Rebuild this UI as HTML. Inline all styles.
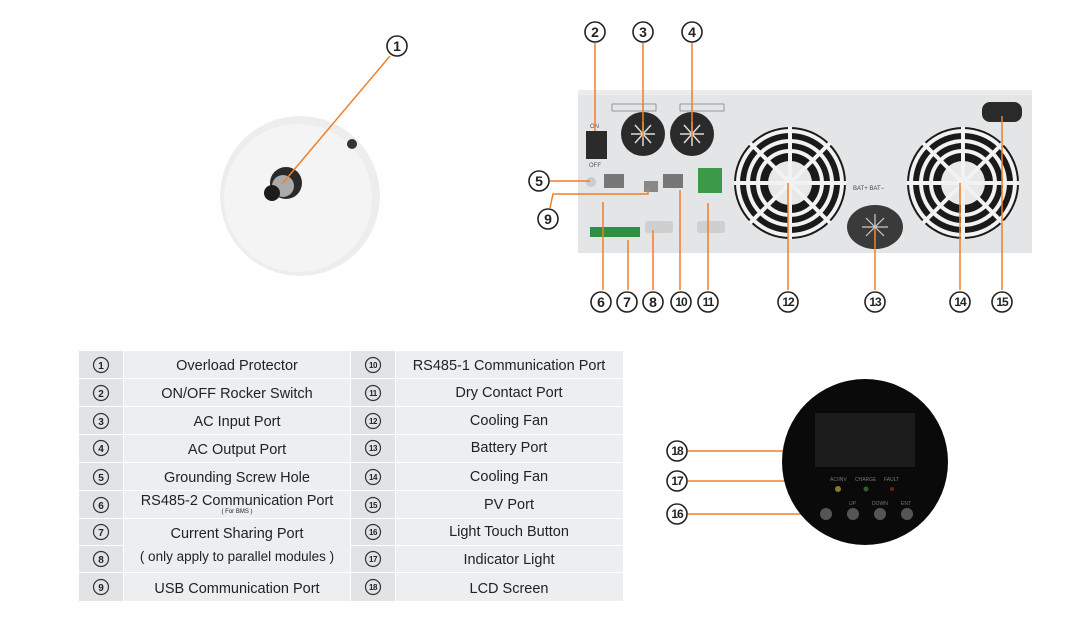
<!DOCTYPE html>
<html><head><meta charset="utf-8"><style>
body{margin:0;background:#fff;}
svg{display:block;}
.t{font-family:"Liberation Sans",sans-serif;}
</style></head><body>
<svg width="1085" height="640" viewBox="0 0 1085 640" xmlns="http://www.w3.org/2000/svg">
<defs>
<g id="fan">
<circle r="56" fill="#1a1a1a"/>
<circle r="52" fill="none" stroke="#f2f2f2" stroke-width="4"/>
<circle r="42" fill="none" stroke="#f2f2f2" stroke-width="4"/>
<circle r="32" fill="none" stroke="#f2f2f2" stroke-width="4"/>
<circle r="22" fill="#e8e8e8"/>
<line x1="-56" y1="0" x2="56" y2="0" stroke="#f2f2f2" stroke-width="4"/>
<line x1="0" y1="-56" x2="0" y2="56" stroke="#f2f2f2" stroke-width="4"/>
<line x1="-40" y1="-40" x2="40" y2="40" stroke="#f2f2f2" stroke-width="4"/>
<line x1="-40" y1="40" x2="40" y2="-40" stroke="#f2f2f2" stroke-width="4"/>
</g>
<g id="gland">
<circle r="22" fill="#2a2a2a"/>
<g stroke="#ddd" stroke-width="1.5"><line x1="-12" y1="0" x2="12" y2="0"/><line x1="-8" y1="-9" x2="8" y2="9"/><line x1="-8" y1="9" x2="8" y2="-9"/><line x1="0" y1="-12" x2="0" y2="12"/></g>
</g>
</defs>

<!-- left device -->
<circle cx="300" cy="196" r="80" fill="#ededed"/>
<circle cx="298" cy="198" r="74" fill="#f4f4f4"/>
<circle cx="352" cy="144" r="5" fill="#333"/>
<circle cx="286" cy="183" r="16" fill="#2a2a2a"/>
<circle cx="283" cy="186" r="11" fill="#aaa"/>
<circle cx="272" cy="193" r="8" fill="#1c1c1c"/>
<line x1="390" y1="56" x2="282" y2="184" stroke="#f07f2a" stroke-width="1.5"/>

<!-- rear panel -->
<rect x="578" y="90" width="454" height="163" fill="#e4e5e6"/>
<rect x="578" y="90" width="454" height="5" fill="#ececec"/>
<rect x="586" y="131" width="21" height="28" fill="#2b2b2b"/>
<text x="590" y="128" class="t" font-size="6" fill="#555">ON</text>
<text x="589" y="167" class="t" font-size="6" fill="#555">OFF</text>
<rect x="612" y="104" width="44" height="7" fill="none" stroke="#666" stroke-width="0.6"/>
<rect x="680" y="104" width="44" height="7" fill="none" stroke="#666" stroke-width="0.6"/>
<use href="#gland" x="643" y="134"/>
<use href="#gland" x="692" y="134"/>
<circle cx="591" cy="182" r="5" fill="#ccc"/>
<rect x="604" y="174" width="20" height="14" fill="#777"/>
<rect x="644" y="181" width="14" height="11" fill="#888"/>
<rect x="663" y="174" width="20" height="14" fill="#777"/>
<rect x="698" y="168" width="24" height="25" fill="#3a9a4a"/>
<rect x="590" y="227" width="50" height="10" fill="#2f8f42"/>
<rect x="645" y="221" width="28" height="12" rx="3" fill="#cfcfcf"/>
<rect x="697" y="221" width="28" height="12" rx="3" fill="#cfcfcf"/>
<use href="#fan" x="790" y="183"/>
<use href="#fan" x="963" y="183"/>
<ellipse cx="875" cy="227" rx="28" ry="22" fill="#3a3a3a"/>
<g stroke="#ccc" stroke-width="1.2"><line x1="862" y1="227" x2="888" y2="227"/><line x1="875" y1="214" x2="875" y2="240"/><line x1="866" y1="218" x2="884" y2="236"/><line x1="866" y1="236" x2="884" y2="218"/></g>
<text x="853" y="190" class="t" font-size="6" fill="#444">BAT+   BAT−</text>
<rect x="982" y="102" width="40" height="20" rx="8" fill="#2a2a2a"/>

<!-- orange leader lines -->
<g stroke="#f07f2a" stroke-width="1.5" fill="none">
<line x1="595" y1="43" x2="595" y2="131"/>
<line x1="643" y1="43" x2="643" y2="138"/>
<line x1="692" y1="43" x2="692" y2="138"/>
<line x1="550" y1="181" x2="590" y2="181"/>
<polyline points="550,208 553,194 648,194 648,190"/>
<line x1="603" y1="290" x2="603" y2="202"/>
<line x1="628" y1="290" x2="628" y2="240"/>
<line x1="653" y1="290" x2="653" y2="230"/>
<line x1="680" y1="290" x2="680" y2="190"/>
<line x1="708" y1="290" x2="708" y2="203"/>
<line x1="788" y1="290" x2="788" y2="183"/>
<line x1="875" y1="290" x2="875" y2="228"/>
<line x1="960" y1="290" x2="960" y2="183"/>
<line x1="1002" y1="290" x2="1002" y2="116"/>
<line x1="688" y1="451" x2="853" y2="451"/>
<polyline points="688,481 838,481 838,488"/>
<line x1="688" y1="514" x2="825" y2="514"/>
</g>

<!-- circled labels -->
<g fill="#fff" stroke="#222" stroke-width="1.6">
<circle cx="397" cy="46" r="10"/>
<circle cx="595" cy="32" r="10"/><circle cx="643" cy="32" r="10"/><circle cx="692" cy="32" r="10"/>
<circle cx="539" cy="181" r="10"/><circle cx="548" cy="219" r="10"/>
<circle cx="601" cy="302" r="10"/><circle cx="627" cy="302" r="10"/><circle cx="653" cy="302" r="10"/>
<circle cx="681" cy="302" r="10"/><circle cx="708" cy="302" r="10"/><circle cx="788" cy="302" r="10"/>
<circle cx="875" cy="302" r="10"/><circle cx="960" cy="302" r="10"/><circle cx="1002" cy="302" r="10"/>
<circle cx="677" cy="451" r="10"/><circle cx="677" cy="481" r="10"/><circle cx="677" cy="514" r="10"/>
</g>
<g class="t" font-weight="bold" fill="#222" text-anchor="middle" font-size="14">
<text x="397" y="51">1</text><text x="595" y="37">2</text><text x="643" y="37">3</text><text x="692" y="37">4</text>
<text x="539" y="186">5</text><text x="548" y="224">9</text>
<text x="601" y="307">6</text><text x="627" y="307">7</text><text x="653" y="307">8</text>
</g>
<g class="t" font-weight="bold" fill="#222" text-anchor="middle" font-size="12" letter-spacing="-1">
<text x="681" y="306">10</text><text x="708" y="306">11</text><text x="788" y="306">12</text>
<text x="875" y="306">13</text><text x="960" y="306">14</text><text x="1002" y="306">15</text>
<text x="677" y="455">18</text><text x="677" y="485">17</text><text x="677" y="518">16</text>
</g>

<!-- front panel -->
<circle cx="865" cy="462" r="83" fill="#0a0a0a"/>
<rect x="815" y="413" width="100" height="54" fill="#1c1c1c"/>
<g class="t" font-size="5" fill="#777"><text x="830" y="481">AC/INV</text><text x="855" y="481">CHARGE</text><text x="884" y="481">FAULT</text>
<text x="849" y="505">UP</text><text x="872" y="505">DOWN</text><text x="901" y="505">ENT</text></g>
<circle cx="838" cy="489" r="3" fill="#8a7a30"/><circle cx="866" cy="489" r="2.5" fill="#2f5f2f"/><circle cx="892" cy="489" r="2" fill="#7a1a1a"/>
<g fill="#555"><circle cx="826" cy="514" r="6"/><circle cx="853" cy="514" r="6"/><circle cx="880" cy="514" r="6"/><circle cx="907" cy="514" r="6"/></g>

<!-- table -->
<g fill="#eceef0">
<rect x="79" y="351" width="544" height="27"/><rect x="79" y="379" width="544" height="27"/>
<rect x="79" y="407" width="544" height="27"/><rect x="79" y="435" width="544" height="27"/>
<rect x="79" y="463" width="544" height="27"/><rect x="79" y="491" width="544" height="27"/>
<rect x="79" y="519" width="544" height="53"/><rect x="79" y="573" width="544" height="28"/>
</g>
<g fill="#e2e3e5">
<rect x="79" y="351" width="44" height="250"/><rect x="351" y="351" width="44" height="250"/>
</g>
<g fill="#fff">
<rect x="123" y="351" width="1" height="250"/><rect x="350" y="351" width="1" height="250"/><rect x="395" y="351" width="1" height="250"/>
<rect x="79" y="378" width="544" height="1"/><rect x="79" y="406" width="544" height="1"/><rect x="79" y="434" width="544" height="1"/>
<rect x="79" y="462" width="544" height="1"/><rect x="79" y="490" width="544" height="1"/><rect x="79" y="518" width="544" height="1"/>
<rect x="79" y="545" width="44" height="1"/><rect x="351" y="545" width="272" height="1"/><rect x="79" y="572" width="544" height="1"/>
</g>
<g class="t" font-size="14.5" fill="#222" text-anchor="middle">
<text x="237" y="370">Overload Protector</text>
<text x="237" y="398">ON/OFF Rocker Switch</text>
<text x="237" y="426">AC Input Port</text>
<text x="237" y="454">AC Output Port</text>
<text x="237" y="482">Grounding Screw Hole</text>
<text x="237" y="505">RS485-2 Communication Port</text>
<text x="237" y="513" font-size="6">( For BMS )</text>
<text x="237" y="538">Current Sharing Port</text>
<text x="237" y="561" font-size="13.5">(  only apply to parallel modules )</text>
<text x="237" y="593">USB Communication Port</text>
<text x="509" y="370">RS485-1 Communication Port</text>
<text x="509" y="397">Dry Contact Port</text>
<text x="509" y="425">Cooling Fan</text>
<text x="509" y="452">Battery Port</text>
<text x="509" y="481">Cooling Fan</text>
<text x="509" y="509">PV Port</text>
<text x="509" y="536">Light Touch Button</text>
<text x="509" y="564">Indicator Light</text>
<text x="509" y="593">LCD Screen</text>
</g>
<g fill="none" stroke="#333" stroke-width="1.2">
<circle cx="101" cy="365" r="7.5"/><circle cx="101" cy="393" r="7.5"/><circle cx="101" cy="421" r="7.5"/>
<circle cx="101" cy="448" r="7.5"/><circle cx="101" cy="477" r="7.5"/><circle cx="101" cy="505" r="7.5"/>
<circle cx="101" cy="532" r="7.5"/><circle cx="101" cy="559" r="7.5"/><circle cx="101" cy="587" r="7.5"/>
<circle cx="373" cy="365" r="7.5"/><circle cx="373" cy="393" r="7.5"/><circle cx="373" cy="421" r="7.5"/>
<circle cx="373" cy="448" r="7.5"/><circle cx="373" cy="477" r="7.5"/><circle cx="373" cy="505" r="7.5"/>
<circle cx="373" cy="532" r="7.5"/><circle cx="373" cy="559" r="7.5"/><circle cx="373" cy="587" r="7.5"/>
</g>
<g class="t" font-size="10" font-weight="bold" fill="#222" text-anchor="middle">
<text x="101" y="369">1</text><text x="101" y="397">2</text><text x="101" y="425">3</text><text x="101" y="452">4</text>
<text x="101" y="481">5</text><text x="101" y="509">6</text><text x="101" y="536">7</text><text x="101" y="563">8</text><text x="101" y="591">9</text>
</g>
<g class="t" font-size="8" font-weight="bold" fill="#222" text-anchor="middle" letter-spacing="-0.5">
<text x="373" y="368">10</text><text x="373" y="396">11</text><text x="373" y="424">12</text><text x="373" y="451">13</text>
<text x="373" y="480">14</text><text x="373" y="508">15</text><text x="373" y="535">16</text><text x="373" y="562">17</text><text x="373" y="590">18</text>
</g>
</svg>
</body></html>
